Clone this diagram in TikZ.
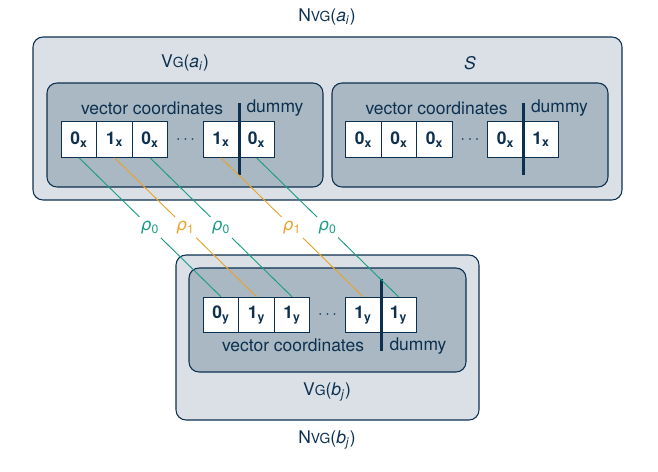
\documentclass[tikz,border=0pt]{standalone}
\usepackage{fontspec}
\setmainfont{TeX Gyre Heros}
\newfontfamily\greekfont{DejaVu Sans}
\usetikzlibrary{calc}
\definecolor{navy}{RGB}{12,48,80}
\definecolor{lightbox}{RGB}{218,224,230}
\definecolor{darkbox}{RGB}{169,184,194}
\definecolor{rhozero}{RGB}{26,156,132}
\definecolor{rhoone}{RGB}{232,163,42}
\newcommand{\basefont}{\fontsize{13.1}{16}\selectfont}
\newcommand{\smc}[1]{{\fontsize{10.4}{12}\selectfont #1}}
\newcommand{\vg}{V\smc{G}}
\newcommand{\nvg}{N\smc{VG}}
\newcommand{\rhosub}[1]{{\greekfont\itshape\fontsize{12.5}{15}\selectfont ρ}\textsubscript{#1}}
\tikzset{
  outerbox/.style={draw=navy, fill=lightbox, rounded corners=7.5pt, line width=0.8pt},
  innerbox/.style={draw=navy, fill=darkbox, rounded corners=7.5pt, line width=0.8pt},
  cell/.style={draw=navy, fill=white, minimum size=26.6pt, inner sep=0pt, font=\basefont\bfseries, line width=0.8pt},
  divider/.style={navy, line width=2.2pt},
  caption/.style={inner sep=0pt},
  link/.style={line width=0.7pt},
  rholabel/.style={fill=white, inner sep=1pt, minimum size=16pt}
}
\begin{document}
\begin{tikzpicture}[x=0.75pt, y=-0.75pt, every node/.style={text=navy},
    font=\basefont]
    \useasboundingbox (0,0) rectangle (658,472);
    \draw[outerbox] (33,37) rectangle (622,200);
    \draw[innerbox] (47,83) rectangle (323,187);
    \draw[innerbox] (332,83) rectangle (608,187);
    \draw[outerbox] (176,255) rectangle (479,420);
    \draw[innerbox] (189,268) rectangle (466,372);

    \node[caption, anchor=base] at (327,21) {\nvg(\textit{a}\textsubscript{\textit{i}})};
    \node[caption, anchor=base] at (185,67) {\vg(\textit{a}\textsubscript{\textit{i}})};
    \node[caption, anchor=base] at (470,69) {\textit{S}};
    \node[caption, anchor=base] at (327,395) {\vg(\textit{b}\textsubscript{\textit{j}})};
    \node[caption, anchor=base] at (327,443) {\nvg(\textit{b}\textsubscript{\textit{j}})};

    \foreach \n/\x/\v in {a1/79/0, a2/114.5/1, a3/150/0, a4/221/1, a5/256.5/0} {
      \node[cell] (\n) at (\x,139.5) {\v\textsubscript{x}};
    }
    \foreach \n/\x/\v in {s1/363.5/0, s2/399/0, s3/434.5/0, s4/505.5/0, s5/541/1} {
      \node[cell] (\n) at (\x,139.5) {\v\textsubscript{x}};
    }
    \foreach \n/\x/\v in {b1/221/0, b2/256.5/1, b3/292/1, b4/363/1, b5/398.5/1} {
      \node[cell] (\n) at (\x,315) {\v\textsubscript{y}};
    }
    \foreach \x/\y in {185.5/139.5, 470/139.5, 327.5/315} {
      \node[font=\basefont] at (\x,\y) {$\cdots$};
    }

    \foreach \d in {a4, s4} {
      \draw[divider] ($(\d.north east)+(0,-18)$) -- ($(\d.south east)+(0,17)$);
      \node[caption, anchor=base east] at ($(\d.north east)+(-16,-7)$) {vector coordinates};
      \node[caption, anchor=base west] at ($(\d.north east)+(7,-9)$) {dummy};
    }
    \draw[divider] ($(b4.north east)+(0,-18)$) -- ($(b4.south east)+(0,18)$);
    \node[caption, anchor=base east] at ($(b4.south east)+(-17,18)$) {vector coordinates};
    \node[caption, anchor=base west] at ($(b4.south east)+(8,17)$) {dummy};

    \foreach \t/\b/\col/\r in {a1/b1/rhozero/0, a2/b2/rhoone/1, a3/b3/rhozero/0,
        a4/b4/rhoone/1, a5/b5/rhozero/0} {
      \draw[link, draw=\col] (\t.south) -- node[rholabel, font=\basefont, text=\col] {\rhosub{\r}} (\b.north);
    }
  \end{tikzpicture}
\end{document}
